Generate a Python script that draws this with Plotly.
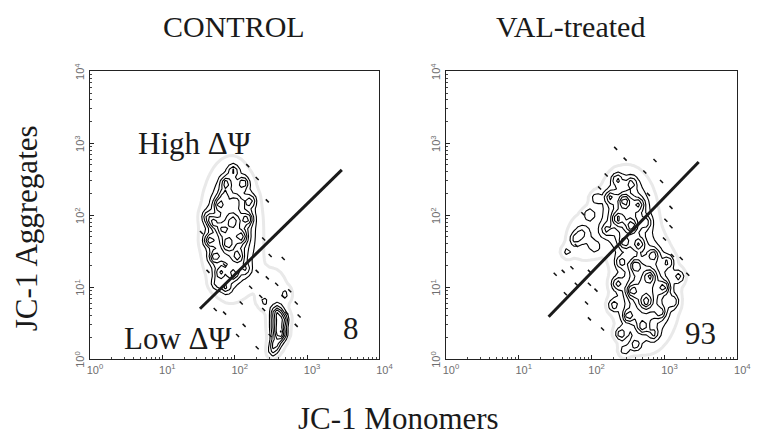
import numpy as np
import plotly.graph_objects as go

# ---------------- data (log10 units) ----------------
decades = [0, 1, 2, 3, 4]
tick_text = ["10<sup>0</sup>", "10<sup>1</sup>", "10<sup>2</sup>", "10<sup>3</sup>", "10<sup>4</sup>"]

# broad population envelopes: centre x, centre y, spread x, spread y, weight
ctrl_env_cx = [1.95, 2.60, 2.55]
ctrl_env_cy = [1.80, 0.45, 0.95]
ctrl_env_sx = [0.20, 0.07, 0.18]
ctrl_env_sy = [0.46, 0.16, 0.30]
ctrl_env_w = [0.60, 0.55, 0.08]

val_env_cx = [2.74, 2.48, 1.90]
val_env_cy = [0.95, 2.02, 1.70]
val_env_sx = [0.22, 0.20, 0.16]
val_env_sy = [0.40, 0.32, 0.22]
val_env_w = [0.60, 0.50, 0.15]

# local dense spots: x, y, weight
ctrl_spot_x = [1.70, 1.78, 1.88, 1.98, 2.12, 2.22, 2.18, 2.10, 1.65, 1.72, 1.80, 1.88, 1.98, 2.05, 1.90, 1.82, 1.98, 2.02, 1.85, 2.15, 1.62, 1.75,
               2.58, 2.65, 2.55, 2.68, 2.52, 2.40, 2.70]
ctrl_spot_y = [1.90, 2.15, 2.45, 2.62, 2.45, 2.20, 1.95, 1.70, 1.65, 1.42, 1.20, 1.00, 1.18, 1.42, 1.60, 1.80, 1.92, 2.20, 2.28, 1.25, 1.98, 1.05,
               0.65, 0.35, 0.20, 0.55, 0.10, 0.80, 0.90]
ctrl_spot_w = [0.50, 0.45, 0.50, 0.40, 0.45, 0.40, 0.50, 0.45, 0.55, 0.50, 0.45, 0.40, 0.45, 0.40, 0.35, 0.30, 0.25, 0.20, 0.30, 0.30, 0.35, 0.35,
               0.40, 0.40, 0.40, 0.35, 0.30, 0.20, 0.20]

val_spot_x = [2.35, 2.55, 2.25, 2.45, 2.65, 2.35, 2.55, 2.75, 2.20, 2.45, 2.65,
              2.85, 3.05, 3.20, 2.40, 2.60, 2.80, 3.00, 3.12, 2.35, 2.55, 2.75, 2.95, 2.30, 2.50, 2.70, 2.85, 2.40, 2.60, 2.45,
              1.77, 1.86, 1.66, 1.97, 2.06, 2.05]
val_spot_y = [2.50, 2.45, 2.25, 2.20, 2.15, 1.95, 1.85, 1.90, 1.80, 1.62, 1.60,
              1.45, 1.35, 1.15, 1.35, 1.30, 1.15, 1.00, 0.80, 1.05, 0.95, 0.80, 0.65, 0.75, 0.60, 0.45, 0.35, 0.35, 0.20, 0.12,
              1.67, 1.75, 1.49, 2.02, 2.24, 1.55]
val_spot_w = [0.40, 0.35, 0.45, 0.50, 0.40, 0.45, 0.50, 0.35, 0.35, 0.40, 0.45,
              0.45, 0.40, 0.40, 0.40, 0.50, 0.45, 0.50, 0.40, 0.45, 0.50, 0.45, 0.40, 0.40, 0.50, 0.45, 0.35, 0.45, 0.40, 0.30,
              0.30, 0.25, 0.25, 0.30, 0.30, 0.20]

# isolated events (log10 x, log10 y)
ctrl_dots_x = [1.54, 2.40, 2.49, 2.67, 2.31, 2.45, 2.58, 2.76, 2.85, 2.36, 2.22, 2.09, 1.86, 1.73, 2.04, 2.31, 2.40, 2.67,
               2.72, 2.85, 2.31, 2.18, 2.45, 1.63, 1.86, 2.13, 2.89, 2.49]
ctrl_dots_y = [1.76, 1.67, 1.44, 1.40, 1.22, 1.13, 1.04, 0.95, 0.78, 0.87, 1.00, 0.78, 0.64, 0.69, 0.33, 0.16, 0.69, 0.87,
               0.64, 0.47, 2.51, 2.69, 2.20, 1.22, 1.31, 0.47, 0.60, 0.33]
val_dots_x = [2.33, 2.46, 2.87, 2.73, 2.96, 3.09, 3.02, 3.00, 3.11, 3.23, 3.32, 1.50, 1.61, 1.73, 1.64, 1.79, 1.97, 2.06,
              1.93, 1.97, 1.88, 2.11, 2.20, 2.78, 1.97, 2.15, 3.09, 1.79]
val_dots_y = [2.93, 2.78, 2.76, 2.60, 2.47, 2.11, 1.93, 1.67, 1.44, 1.40, 1.18, 1.18, 1.22, 1.27, 0.91, 1.04, 1.04, 0.96,
              0.78, 1.22, 2.02, 2.38, 2.56, 2.29, 0.56, 0.42, 1.84, 1.58]

# gates
ctrl_gate_x = [1.52, 3.48]
ctrl_gate_y = [0.70, 2.63]
val_gate_x = [1.41, 3.47]
val_gate_y = [0.59, 2.74]

panel_titles = ["CONTROL", "VAL-treated"]
percent_labels = ["8", "93"]

# ---------------------------------------------------------------------------
grid = np.arange(0.0, 4.0001, 0.055)
GX, GY = np.meshgrid(grid, grid)
SPOT_SCALE = 0.65


def density(ecx, ecy, esx, esy, ew, px, py, pw):
    z = np.zeros_like(GX)
    for a, b, c, d, e in zip(ecx, ecy, esx, esy, ew):
        z += e * np.exp(-0.5 * (((GX - a) / c) ** 2 + ((GY - b) / d) ** 2))
    for a, b, e in zip(px, py, pw):
        z += SPOT_SCALE * e * np.exp(-0.5 * (((GX - a) / 0.05) ** 2 + ((GY - b) / 0.06) ** 2))
    return z


fig = go.Figure()

panels = [
    ("x", "y", density(ctrl_env_cx, ctrl_env_cy, ctrl_env_sx, ctrl_env_sy, ctrl_env_w, ctrl_spot_x, ctrl_spot_y, ctrl_spot_w),
     ctrl_dots_x, ctrl_dots_y, ctrl_gate_x, ctrl_gate_y),
    ("x2", "y2", density(val_env_cx, val_env_cy, val_env_sx, val_env_sy, val_env_w, val_spot_x, val_spot_y, val_spot_w),
     val_dots_x, val_dots_y, val_gate_x, val_gate_y),
]

for xr, yr, z, dx, dy, gx, gy in panels:
    fig.add_trace(go.Contour(
        x=grid, y=grid, z=z, xaxis=xr, yaxis=yr,
        contours=dict(start=0.05, end=0.051, size=1, coloring="lines"),
        colorscale=[[0, "#e9e9e9"], [1, "#e9e9e9"]],
        line=dict(width=3, smoothing=0), showscale=False, hoverinfo="skip"))
    fig.add_trace(go.Contour(
        x=grid, y=grid, z=z, xaxis=xr, yaxis=yr,
        contours=dict(start=0.15, end=1.5, size=0.1, coloring="lines"),
        colorscale=[[0, "black"], [1, "black"]],
        line=dict(width=1.1, smoothing=0), showscale=False, hoverinfo="skip"))
    fig.add_trace(go.Scatter(
        x=dx, y=dy, xaxis=xr, yaxis=yr, mode="markers",
        marker=dict(symbol="line-nw", size=3, line=dict(color="#111111", width=1.5)),
        showlegend=False, hoverinfo="skip"))
    fig.add_trace(go.Scatter(
        x=gx, y=gy, xaxis=xr, yaxis=yr, mode="lines",
        line=dict(color="#1a1a1a", width=3), showlegend=False, hoverinfo="skip"))

minor_vals = [d + np.log10(k) for d in range(4) for k in range(2, 10)]

axis_common = dict(
    range=[0, 4], tickmode="array", tickvals=decades, ticktext=tick_text,
    showgrid=False, zeroline=False, showline=True, mirror=True,
    linecolor="#222222", linewidth=1.3, ticks="inside", ticklen=4, tickcolor="#222222",
    tickfont=dict(family="Arial, Liberation Sans", size=11, color="#6e6e6e"),
    minor=dict(tickmode="array", tickvals=minor_vals, ticks="inside", ticklen=2, tickcolor="#444444"),
)

W, H = 764, 443
fig.update_layout(
    width=W, height=H, margin=dict(l=0, r=0, t=0, b=0),
    paper_bgcolor="white", plot_bgcolor="white", showlegend=False,
    xaxis=dict(domain=[89 / W, 385 / W], anchor="y", ticklabelshift=5, **axis_common),
    yaxis=dict(domain=[78 / H, 378 / H], anchor="x", tickangle=-90, ticklabelshift=2, **axis_common),
    xaxis2=dict(domain=[453 / W, 751 / W], anchor="y2", ticklabelshift=5, **axis_common),
    yaxis2=dict(domain=[78 / H, 378 / H], anchor="x2", tickangle=-90, ticklabelshift=2, **axis_common),
)

serif = "Liberation Serif, Times New Roman, serif"
ink = "#1a1a1a"


def note(x, y, text, size, xref="paper", yref="paper", angle=0):
    fig.add_annotation(x=x, y=y, xref=xref, yref=yref, text=text, showarrow=False,
                       xanchor="center", yanchor="middle", textangle=angle,
                       font=dict(family=serif, size=size, color=ink))


note(236 / W, 1 - 18 / H, panel_titles[0], 30)
note(580 / W, 1 - 18 / H, panel_titles[1], 30)
note(24 / W, 1 - 228 / H, "JC-1 Aggregates", 31, angle=-90)
note(405 / W, 1 - 427 / H, "JC-1 Monomers", 31)
note(1.446, 3.0, "High ΔΨ", 31, "x", "y")
note(1.22, 0.29, "Low ΔΨ", 31, "x", "y")
note(3.61, 0.43, percent_labels[0], 31, "x", "y")
note(3.49, 0.35, percent_labels[1], 31, "x2", "y2")

fig.write_html("out.html")
